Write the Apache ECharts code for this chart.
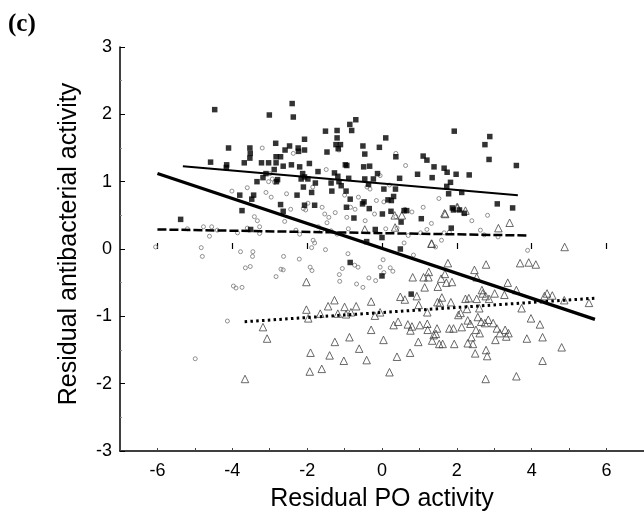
<!DOCTYPE html>
<html><head><meta charset="utf-8">
<script src="https://cdn.jsdelivr.net/npm/echarts@6/dist/echarts.min.js"></script>
<style>html,body{margin:0;padding:0;background:#fff}#c{width:644px;height:523px}</style>
</head><body><div id="c"></div>
<script>
const xTicks = [-6,-4,-2,0,2,4,6];
const yTicks = [-3,-2,-1,0,1,2,3];
const squares = [
[-4.47,2.07],[-2.40,2.16],[-2.37,1.96],[-3.01,1.99],[-0.70,1.92],[-0.86,1.85],[-0.81,1.76],[-1.20,1.76],[-1.51,1.75],[-1.20,1.65],
[-2.07,1.63],[0.10,1.65],[1.93,1.75],[2.88,1.67],[2.75,1.55],[2.86,1.33],[3.59,1.24],[-2.84,1.57],[-4.10,1.50],[-3.53,1.50],
[-3.52,1.42],[-3.53,1.35],[-2.47,1.53],[-2.24,1.50],[-2.07,1.47],[-2.23,1.45],[-2.59,1.47],[-1.23,1.55],[-1.11,1.55],[-1.17,1.49],
[-1.47,1.44],[-0.51,1.53],[-0.07,1.51],[-0.46,1.41],[0.37,1.37],[1.10,1.38],[1.20,1.32],[1.39,1.22],[1.66,1.20],[1.74,1.14],
[1.98,1.11],[2.33,1.10],[0.95,1.11],[1.34,1.06],[3.08,0.67],[3.49,0.61],[1.05,0.45],[-4.58,1.29],[-4.15,1.25],[-4.16,1.21],
[-3.68,1.28],[-3.22,1.28],[-3.03,1.28],[-2.83,1.37],[-2.71,1.37],[-2.83,1.28],[-2.64,1.23],[-2.42,1.25],[-2.20,1.22],[-1.94,1.27],
[-1.71,1.15],[-2.88,1.18],[-3.10,1.12],[-3.18,1.06],[-3.34,1.00],[-2.79,1.03],[-2.82,1.00],[-2.12,1.12],[-2.07,1.07],[-2.16,1.04],
[-1.98,1.04],[-1.78,0.98],[-2.10,0.92],[-1.88,0.84],[-1.36,0.98],[-1.27,1.13],[-1.18,1.08],[-1.15,1.00],[-1.09,0.94],[-1.34,0.86],
[-0.98,1.25],[-0.94,1.24],[-0.89,1.05],[-0.96,0.86],[-0.85,0.74],[-0.95,0.62],[-0.49,1.22],[-0.33,1.23],[-0.46,1.04],[-0.36,0.96],
[-0.23,1.04],[-0.12,1.12],[0.05,0.89],[0.36,0.89],[0.47,1.05],[0.31,0.78],[0.16,0.73],[0.25,0.72],[0.59,0.57],[0.66,0.57],
[0.24,0.56],[0.01,0.52],[0.51,0.40],[-0.18,0.29],[0.00,0.17],[-0.41,0.11],[0.49,0.00],[-0.85,-0.20],[0.00,-0.40],[0.78,-0.67],
[1.73,0.93],[1.83,0.99],[1.78,0.82],[2.13,0.84],[1.88,0.61],[1.91,0.58],[2.07,0.58],[2.20,0.53],[1.85,0.31],[-3.80,0.80],
[-3.43,0.80],[-3.74,0.57],[-3.48,0.74],[-2.71,0.66],[-2.64,0.56],[-2.07,0.65],[-1.80,0.65],[-2.27,0.80],[-3.51,0.29],[-5.38,0.44],
[-0.75,0.46],[-0.52,0.67],[-0.34,0.60],[-0.48,0.70]
];
const circles = [
[-6.05,0.03],[-4.99,-1.63],[-4.83,0.02],[-4.80,-0.11],[-4.61,0.19],[-4.55,0.33],[-4.77,0.33],[-4.13,-1.07],[-3.97,-0.55],[-3.90,-0.58],
[-3.74,-0.57],[-3.78,-0.04],[-3.65,-0.28],[-3.52,-0.26],[-3.45,-0.04],[-3.46,-0.11],[-3.86,0.24],[-4.01,0.86],[-3.60,0.91],[-3.41,0.48],
[-3.33,0.42],[-3.27,0.33],[-3.27,0.23],[-3.10,0.84],[-3.03,1.00],[-2.93,1.04],[-2.87,0.99],[-2.96,0.77],[-3.20,1.50],[-2.99,1.12],
[-2.83,-0.41],[-2.70,-0.30],[-2.64,-0.31],[-2.63,-0.11],[-2.55,0.82],[-2.44,0.59],[-2.37,1.42],[-2.21,-0.15],[-2.10,0.60],[-2.04,0.58],
[-1.98,0.68],[-1.92,-0.27],[-1.88,0.02],[-1.87,-0.32],[-1.84,0.13],[-1.80,0.09],[-1.85,0.92],[-1.49,1.18],[-1.51,-0.01],[-1.53,0.52],
[-1.42,0.47],[-1.47,0.39],[-1.62,0.27],[-1.36,0.27],[-1.25,0.54],[-1.15,1.47],[-1.14,-0.38],[-1.13,-0.48],[-1.06,-0.29],[-0.94,0.47],
[-0.91,-0.07],[-0.84,0.62],[-0.72,0.59],[-0.63,0.77],[-0.73,-0.24],[-0.64,-0.27],[-0.68,-0.52],[-0.51,-0.57],[-0.45,0.42],[-0.40,0.92],
[-0.35,-0.43],[-0.17,-0.47],[-0.32,0.89],[-0.15,0.72],[-0.05,-0.27],[0.03,-0.16],[0.05,0.70],[0.05,-0.35],[0.10,0.30],[0.22,-0.28],
[0.29,-0.33],[0.37,1.42],[0.37,0.48],[-0.05,1.09],[0.61,0.59],[0.59,0.09],[0.63,1.24],[0.84,-0.09],[1.03,0.24],[1.20,0.29],
[1.32,0.38],[1.52,0.75],[1.43,0.03],[1.59,0.13],[1.66,0.24],[1.80,0.25],[2.63,0.28],[2.73,0.21],[2.82,0.50],[3.89,-0.02],
[-5.20,0.30],[-4.40,0.28],[-3.60,0.31],[-2.30,0.28],[-1.70,0.33],[-1.20,0.22],[-0.90,0.30],[0.40,0.31],[0.70,0.20],[1.10,0.62],
[-2.60,0.41],[-2.20,0.22],[-1.60,0.62],[-1.00,0.80],[-0.20,0.52],[0.20,0.95],[0.80,0.55],[2.40,0.42],[3.10,0.18]
];
const triangles = [
[-3.18,-1.16],[-3.66,-1.93],[-3.07,-1.33],[-2.02,-0.49],[-2.02,-0.90],[-1.97,-1.03],[-1.91,-1.54],[-1.93,-1.82],[-1.61,-1.78],[-1.65,-0.96],
[-1.40,-1.58],[-1.44,-0.85],[-1.27,-0.76],[-1.26,-1.38],[-1.18,-0.96],[-1.02,-1.66],[-1.00,-0.86],[-0.96,-0.97],[-0.87,-1.31],[-0.83,-0.94],
[-0.69,-0.85],[-0.61,-1.48],[-0.41,-1.65],[-0.29,-1.20],[-0.29,-0.78],[-0.19,-0.99],[-0.05,-0.94],[0.04,-1.35],[0.20,-1.83],[0.31,-1.13],
[0.40,-1.60],[0.43,-1.08],[0.49,-0.71],[0.61,-0.75],[0.69,-1.12],[0.75,-1.54],[0.76,-1.21],[0.82,-0.42],[0.93,-0.70],[0.98,-0.83],
[0.97,-1.38],[1.01,-1.13],[1.11,-0.42],[1.14,-0.57],[1.21,-0.94],[1.21,-1.11],[1.22,-1.20],[1.24,-0.42],[1.25,-0.34],[1.32,0.08],
[1.34,-1.36],[1.38,-1.28],[1.44,-1.26],[1.47,-1.18],[1.48,-0.79],[1.49,-0.56],[1.53,-1.41],[1.58,-0.44],[1.60,-0.72],[1.62,-1.41],
[1.68,-0.37],[1.69,0.52],[1.72,-0.50],[1.76,-0.21],[1.80,-1.18],[1.84,-0.79],[1.87,-0.49],[1.91,-1.18],[1.93,-1.41],[2.00,0.62],
[2.04,-0.98],[2.13,-1.16],[2.23,0.57],[2.23,-0.74],[2.27,-0.89],[2.29,-1.06],[2.29,-1.40],[2.32,-0.73],[2.36,-1.11],[2.39,-1.31],
[2.43,-1.41],[2.47,-0.31],[2.51,-1.20],[2.53,-0.74],[2.53,-0.42],[2.56,-1.01],[2.61,-1.25],[2.65,-1.08],[2.67,-0.61],[2.69,-0.66],
[2.75,-1.10],[2.77,-0.70],[2.78,-0.23],[2.78,-1.50],[2.77,-1.93],[2.81,-1.59],[2.84,-1.05],[2.86,-0.74],[2.97,-1.10],[3.01,-0.66],
[3.03,-1.35],[3.07,-1.18],[3.11,0.31],[3.15,-1.25],[3.27,-0.68],[3.29,-1.20],[3.32,-1.30],[3.36,-0.50],[3.38,-1.25],[3.41,0.39],
[3.59,-0.61],[3.59,-1.89],[3.69,-0.21],[3.73,-0.88],[3.87,-1.33],[3.92,-0.20],[3.98,-1.03],[4.11,-0.23],[4.22,-1.12],[4.29,-1.31],
[4.29,-1.66],[4.34,-0.70],[4.41,-0.66],[4.55,-0.69],[4.80,-1.46],[4.87,-0.76],[4.88,0.03],[5.53,-0.80],[2.49,-1.55],[0.34,0.50],
[0.53,0.50],[-0.46,0.29],[0.35,0.32],[1.67,0.53],[2.02,0.62],[1.33,0.08],[0.80,-1.15],[1.55,-0.80],[2.10,-0.95],[2.60,-0.88]
];
const lineAll = [[-6.0,1.12],[5.69,-1.045]];
const lineSquares = [[-5.32,1.23],[3.63,0.80]];
const lineCircles = [[-6.0,0.29],[3.92,0.20]];
const lineTriangles = [[-3.67,-1.08],[5.70,-0.73]];

const chart = echarts.init(document.getElementById('c'));
const font = 'Liberation Sans, Arial, sans-serif';
chart.setOption({
  animation:false,
  backgroundColor:'#fff',
  graphic:[{type:'text',left:8,top:12,style:{text:'(c)',font:'bold 25px "Liberation Serif", "Times New Roman", serif',fill:'#000'}}],
  grid:{left:120,right:-4,top:47,bottom:72,containLabel:false},
  xAxis:[{type:'value',min:-7,max:7,interval:1,
    name:'Residual PO activity',nameLocation:'middle',nameGap:36,
    nameTextStyle:{fontFamily:font,fontSize:25,color:'#000'},
    axisLine:{onZero:false,lineStyle:{color:'#000',width:1.5}},
    axisTick:{inside:true,length:3,lineStyle:{color:'#444'}},
    axisLabel:{show:false},
    splitLine:{show:false}},
   {type:'value',min:-7,max:7,interval:1,position:'bottom',
    axisLine:{show:false},
    axisTick:{inside:true,length:6,customValues:xTicks,lineStyle:{color:'#000',width:1.2}},
    axisLabel:{fontFamily:font,fontSize:18,color:'#000',margin:11,customValues:xTicks},
    splitLine:{show:false}}],
  yAxis:{type:'value',min:-3,max:3,interval:1,
    name:'Residual antibacterial activity',nameLocation:'middle',nameGap:38,nameRotate:90,
    nameTextStyle:{fontFamily:font,fontSize:25,color:'#000',padding:[0,0,0,10]},
    axisLine:{onZero:false,lineStyle:{color:'#000',width:1.5}},
    axisTick:{inside:true,length:5,lineStyle:{color:'#000'}},
    minorTick:{show:true,splitNumber:2,length:2,lineStyle:{color:'#888'}},
    axisLabel:{fontFamily:font,fontSize:18,color:'#000',margin:8,
      formatter:v=>yTicks.includes(v)?String(v):''},
    splitLine:{show:false}},
  series:[
    {type:'scatter',data:circles,symbol:'circle',symbolSize:4,
      itemStyle:{color:'rgba(0,0,0,0)',borderColor:'#777',borderWidth:1}},
    {type:'scatter',data:triangles,symbol:'triangle',symbolSize:7.5,
      itemStyle:{color:'rgba(0,0,0,0)',borderColor:'#444',borderWidth:1}},
    {type:'scatter',data:squares,symbol:'rect',symbolSize:5.5,
      itemStyle:{color:'#000'}},
    {type:'line',data:lineSquares,symbol:'none',lineStyle:{color:'#000',width:2}},
    {type:'line',data:lineCircles,symbol:'none',lineStyle:{color:'#000',width:2.5,type:[9,3]}},
    {type:'line',data:lineTriangles,symbol:'none',lineStyle:{color:'#000',width:3,type:[2.5,3.3]}},
    {type:'line',data:lineAll,symbol:'none',lineStyle:{color:'#000',width:3.2}}
  ]
});
</script></body></html>
